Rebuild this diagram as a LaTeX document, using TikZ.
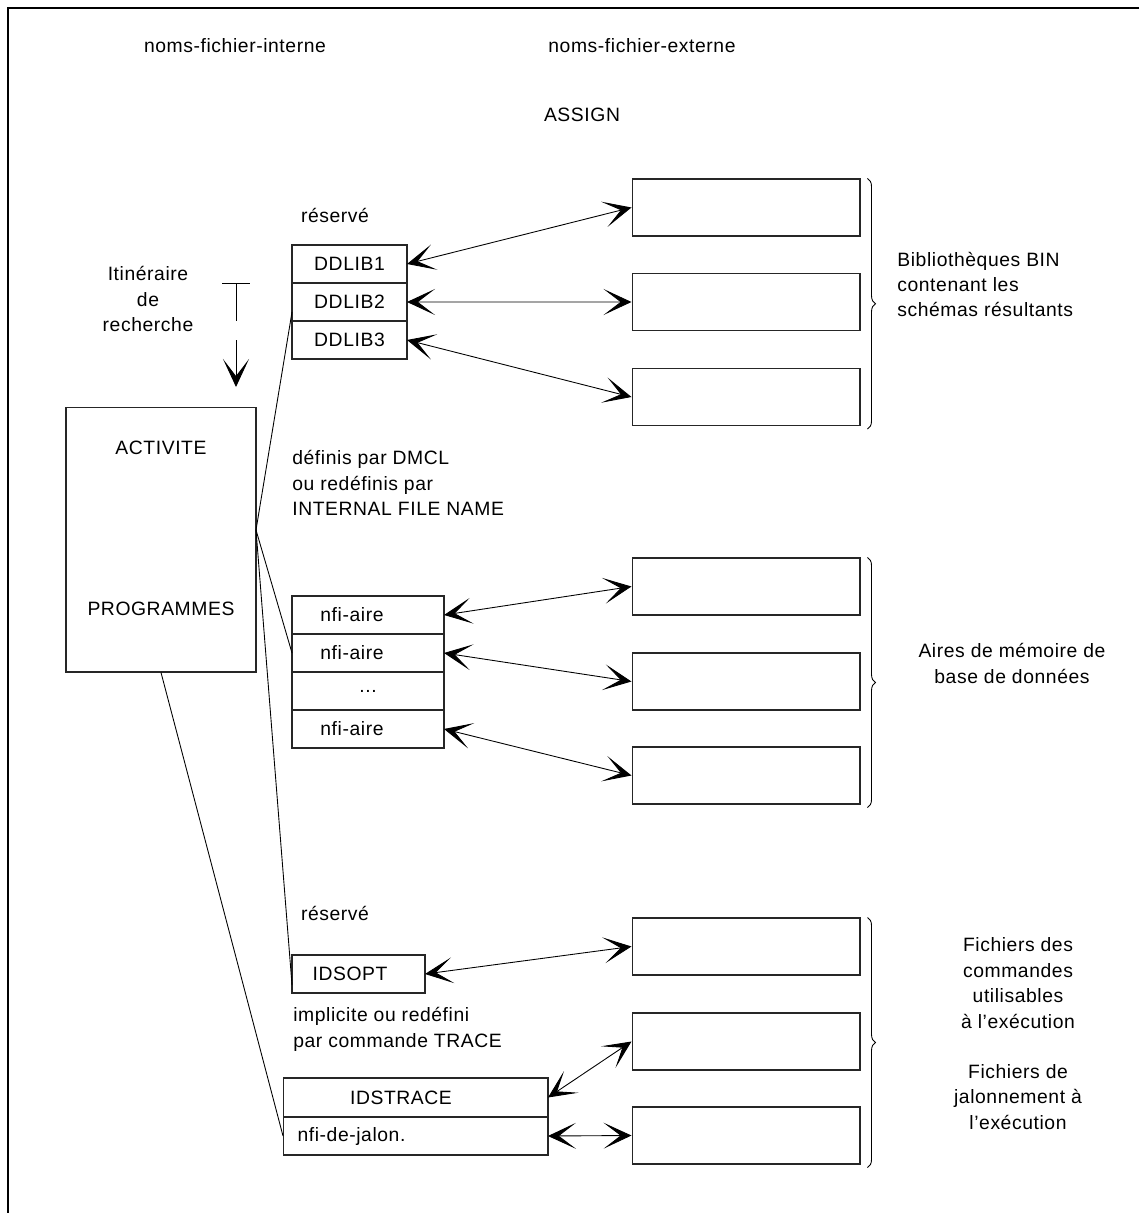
\documentclass[tikz,border=0pt]{standalone}
\usepackage{fontspec}
\setmainfont{Liberation Sans}[LetterSpace=3]
\usetikzlibrary{positioning,arrows.meta,decorations.pathreplacing}

\begin{document}
\begin{tikzpicture}[
  x=0.02cm, y=-0.02cm,
  every node/.style={font=\fontsize{11}{14.5}\selectfont, inner sep=0pt},
  cell/.style={draw=black!85, line width=0.6pt, minimum height=0.76cm, outer sep=0pt},
  ext/.style={draw=black!85, line width=0.6pt, minimum width=4.56cm, minimum height=1.14cm},
  link/.style={{Stealth[length=0.56cm, width=0.52cm, inset=0.34cm]}-{Stealth[length=0.56cm, width=0.52cm, inset=0.34cm]}, line width=0.5pt},
  wire/.style={line width=0.5pt},
  grp/.style={decorate, decoration={brace, amplitude=0.16cm}, line width=0.5pt}
]
  \useasboundingbox (0,0) rectangle (1139,1213);
  \draw[line width=0.8pt] (1139,8) -- (8,8) -- (8,1213);

  \node (nfi) at (235,46) {noms-fichier-interne};
  \node (nfe) at (642,46) {noms-fichier-externe};
  \node (assign) at (582,115) {ASSIGN};

  \node (res1) at (335,215) {réservé};
  \node[cell, minimum width=2.3cm] (lib1) at (349.5,264) {DDLIB1};
  \node[cell, minimum width=2.3cm, below=0pt of lib1] (lib2) {DDLIB2};
  \node[cell, minimum width=2.3cm, below=0pt of lib2] (lib3) {DDLIB3};

  \node[align=center] (itin) at (148,299) {Itinéraire\\de\\recherche};
  \coordinate (s0) at (236,283);
  \coordinate (s1) at (236,321);
  \coordinate (s2) at (236,340);
  \coordinate (s3) at (236,387);
  \draw[wire] ([xshift=-0.28cm]s0) -- ([xshift=0.28cm]s0);
  \draw[wire] (s0) -- (s1);
  \draw[wire, -{Stealth[length=0.56cm, width=0.52cm, inset=0.34cm]}] (s2) -- (s3);

  \node[draw=black!85, line width=0.6pt, minimum width=3.8cm, minimum height=5.3cm] (act) at (161,539.5) {};
  \node (acttxt) at (161,448) {ACTIVITE};
  \node (prog) at (161,609) {PROGRAMMES};
  \coordinate (fan) at (256,530);

  \node[anchor=west, align=left] (dmcl) at (292,483) {définis par DMCL\\ou redéfinis par\\INTERNAL FILE NAME};

  \node[cell, minimum width=3.04cm] (aire1) at (368,615) {nfi-aire\hspace*{0.64cm}};
  \node[cell, minimum width=3.04cm, below=0pt of aire1] (aire2) {nfi-aire\hspace*{0.64cm}};
  \node[cell, minimum width=3.04cm, below=0pt of aire2] (aire3) {...};
  \node[cell, minimum width=3.04cm, below=0pt of aire3] (aire4) {nfi-aire\hspace*{0.64cm}};

  \node (res2) at (335,913) {réservé};
  \node[cell, minimum width=2.66cm] (opt) at (358.5,974) {IDSOPT\hspace*{0.34cm}};
  \node[anchor=west, align=left] (impl) at (293,1029.5) {implicite ou redéfini\\par commande TRACE};
  \node[cell, minimum width=5.3cm, minimum height=0.78cm] (trace) at (415.5,1097.5) {IDSTRACE\hspace*{0.58cm}};
  \node[cell, minimum width=5.3cm, below=0pt of trace] (jalon) {nfi-de-jalon.\hspace*{2.56cm}};

  \draw[wire] (fan) -- ([yshift=-0.2cm]lib2.west);
  \draw[wire] (fan) -- (aire2.west);
  \draw[wire] (fan) -- ([yshift=-0.22cm]opt.west);
  \draw[wire] (act.south) -- (jalon.west);

  \node[ext] (bin1) at (746,207.5) {};
  \node[ext] (bin2) at (746,302) {};
  \node[ext] (bin3) at (746,397) {};
  \node[ext] (mem1) at (746,586.5) {};
  \node[ext] (mem2) at (746,681.5) {};
  \node[ext] (mem3) at (746,775.5) {};
  \node[ext] (cmd) at (746,946.5) {};
  \node[ext] (trc1) at (746,1041.5) {};
  \node[ext] (trc2) at (746,1135.5) {};

  \draw[link] (lib1.east) -- (bin1.west);
  \draw[link] (lib2.east) -- (bin2.west);
  \draw[link] (lib3.east) -- (bin3.west);
  \draw[link] (aire1.east) -- (mem1.west);
  \draw[link] (aire2.east) -- (mem2.west);
  \draw[link] (aire4.east) -- (mem3.west);
  \draw[link] (opt.east) -- (cmd.west);
  \draw[link] (trace.east) -- (trc1.west);
  \draw[link] (jalon.east) -- (trc2.west);

  \draw[grp] ([xshift=0.14cm]bin1.north east) -- ([xshift=0.14cm,yshift=-0.06cm]bin3.south east);
  \draw[grp] ([xshift=0.14cm]mem1.north east) -- ([xshift=0.14cm,yshift=-0.06cm]mem3.south east);
  \draw[grp] ([xshift=0.14cm]cmd.north east) -- ([xshift=0.14cm,yshift=-0.06cm]trc2.south east);

  \node[anchor=west, align=left] (binlbl) at (897,284.5) {Bibliothèques BIN\\contenant les\\schémas résultants};
  \node[align=center] (memlbl) at (1012,663.5) {Aires de mémoire de\\base de données};
  \node[align=center] (cmdlbl) at (1018,983) {Fichiers des\\commandes\\utilisables\\à l'exécution};
  \node[align=center] (trclbl) at (1018,1097) {Fichiers de\\jalonnement à\\l'exécution};
\end{tikzpicture}
\end{document}
